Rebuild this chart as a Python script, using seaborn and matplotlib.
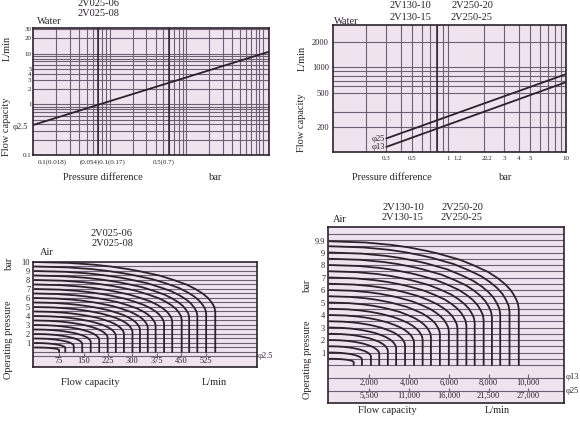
import numpy as np
import pandas as pd
import seaborn as sns
import matplotlib.pyplot as plt

# --- top left: water, 2V025 (log-log) ---
tl_dp = [0.01, 12]
tl_flow = [0.39, 10.9]
tl_xticks = [0.018, 0.08, 0.5]
tl_xlabels = ["0.1(0.018)", "(0.054)0.1(0.17)", "0.5(0.7)"]
tl_yticks = [0.1, 1, 2, 3, 4, 5, 10, 20, 30]
tl_dark = [0.07, 0.6]

# --- top right: water, 2V130 / 2V250 (log-log) ---
tr_dp = [0.3, 10]
tr_phi25 = [147, 834]
tr_phi13 = [117, 671]
tr_xticks = [0.3, 0.5, 1, 1.2, 2, 2.2, 3, 4, 5, 10]
tr_yticks = [200, 500, 1000, 2000]
tr_ygrid = [200, 300, 500, 600, 700, 800, 900, 1000, 2000]
tr_dark = [0.8]

# --- bottom left: air, 2V025 ---
bl_press = [0.5, 1, 1.5, 2, 2.5, 3, 3.5, 4, 4.5, 5, 5.5, 6, 6.5, 7, 7.5, 8, 8.5, 9, 9.5, 10]
bl_qmax = [75, 94, 120, 146, 172, 198, 224, 249, 274, 300, 323, 347, 371, 397, 422, 451, 474, 499, 526, 554]
bl_xticks = [75, 150, 225, 300, 375, 450, 525]
bl_yticks = [1, 2, 3, 4, 5, 6, 7, 8, 9, 10]

# --- bottom right: air, 2V130 / 2V250 ---
br_press = [0.5, 1, 1.5, 2, 2.5, 3, 3.5, 4, 4.5, 5, 5.5, 6, 6.5, 7, 7.5, 8, 8.5, 9, 9.5, 9.9]
br_qmax = [1217, 1633, 2083, 2500, 2933, 3350, 3800, 4250, 4683, 5100, 5550, 6000, 6433, 6883,
           7300, 7750, 8167, 8583, 9050, 9517]
br_xticks = [2000, 4000, 6000, 8000, 10000]
br_phi13_labels = ["2,000", "4,000", "6,000", "8,000", "10,000"]
br_phi25_labels = ["5,500", "11,000", "16,000", "21,500", "27,000"]
br_yticks = [1, 2, 3, 4, 5, 6, 7, 8, 9, 9.9]

# normalised curve shape (flow / max flow vs pressure / supply)
shape_q = [0, 0.19, 0.33, 0.42, 0.52, 0.575, 0.69, 0.77, 0.84, 0.89, 0.93, 0.96, 0.98, 0.995, 1, 1]
shape_p = [1, 0.99, 0.97, 0.95, 0.92, 0.9, 0.85, 0.8, 0.75, 0.7, 0.65, 0.6, 0.55, 0.5, 0.45, 0]

sns.set_theme(style="white")
plt.rcParams["font.family"] = ["Liberation Serif", "DejaVu Serif"]

BG = "#efe3ef"
GRID = "#6e5f72"
INK = "#2b222c"
W, H = 580, 423

fig = plt.figure(figsize=(5.8, 4.23), dpi=100)


def box(l, t, r, b):
    ax = fig.add_axes([l / W, 1 - b / H, (r - l) / W, (b - t) / H])
    ax.set_facecolor(BG)
    for s in ax.spines.values():
        s.set_color(INK)
        s.set_linewidth(1.2)
    ax.tick_params(length=0, labelsize=6, colors=INK)
    ax.minorticks_off()
    return ax


def txt(x, y, s, size=7.5, rot=0, ha="center"):
    fig.text(x / W, 1 - y / H, s, fontsize=size, rotation=rot, ha=ha, va="center", color=INK)


def log_lines(lo, hi):
    # 1..9 of every decade between lo and hi (grid positions of log paper)
    vals = []
    for d in range(int(np.floor(np.log10(lo))), int(np.ceil(np.log10(hi))) + 1):
        for k in range(1, 10):
            v = k * 10.0 ** d
            if lo * 1.001 < v < hi * 0.999:
                vals.append(v)
    return vals


def curves_df(press, qmax):
    rows = []
    for i, (p, q) in enumerate(zip(press, qmax)):
        for sq, sp in zip(shape_q, shape_p):
            rows.append({"q": sq * q, "p": sp * p, "curve": i})
    return pd.DataFrame(rows)


# ---------- top left ----------
ax = box(33, 28, 269, 155)
ax.set_xscale("log")
ax.set_yscale("log")
for v in log_lines(0.01, 12):
    ax.axvline(v, color=GRID, lw=0.8)
for v in log_lines(0.1, 32):
    ax.axhline(v, color=GRID, lw=0.8)
for v in tl_dark:
    ax.axvline(v, color=INK, lw=1.1)
sns.lineplot(x=tl_dp, y=tl_flow, ax=ax, color=INK, lw=1.3)
ax.set_xticks(tl_xticks, tl_xlabels)
ax.set_yticks(tl_yticks, [str(v) for v in tl_yticks])
ax.minorticks_off()
ax.tick_params(axis="x", labelsize=5, pad=3)
ax.tick_params(axis="y", labelsize=5, pad=1)
ax.set_xlim(0.01, 12)
ax.set_ylim(0.1, 32)
txt(28, 127, "\u03c62.5", size=6, ha="right")
txt(99, 4, "2V025-06")
txt(99, 14, "2V025-08")
txt(49, 21, "Water")
txt(7, 48, "L/min", rot=90)
txt(7, 127, "Flow capacity", rot=90)
txt(103, 177, "Pressure difference")
txt(216, 177, "bar")

# ---------- top right ----------
ax = box(333, 25, 566, 152)
ax.set_xscale("log")
ax.set_yscale("log")
for v in log_lines(0.106, 10):
    ax.axvline(v, color=GRID, lw=0.8)
for v in tr_ygrid:
    ax.axhline(v, color=GRID, lw=0.8)
for v in tr_dark:
    ax.axvline(v, color=INK, lw=1.1)
sns.lineplot(x=tr_dp, y=tr_phi25, ax=ax, color=INK, lw=1.3)
sns.lineplot(x=tr_dp, y=tr_phi13, ax=ax, color=INK, lw=1.3)
ax.set_xticks(tr_xticks, [f"{v:g}" for v in tr_xticks])
ax.set_yticks(tr_yticks, [str(v) for v in tr_yticks])
ax.minorticks_off()
ax.tick_params(axis="x", labelsize=5, pad=3)
ax.tick_params(axis="y", labelsize=6, pad=3)
ax.set_xlim(0.106, 10)
ax.set_ylim(102, 3140)
txt(385, 139, "\u03c625", size=6, ha="right")
txt(385, 147, "\u03c613", size=6, ha="right")
txt(410, 6, "2V130-10")
txt(410, 17, "2V130-15")
txt(472, 6, "2V250-20")
txt(472, 17, "2V250-25")
txt(346, 21, "Water")
txt(302, 58, "L/min", rot=90)
txt(302, 123, "Flow capacity", rot=90)
txt(392, 177, "Pressure difference")
txt(506, 177, "bar")

# ---------- bottom left ----------
ax = box(33, 262, 257, 367)
for v in np.arange(-0.5, 10, 0.5):
    ax.axhline(v, color=GRID, lw=0.8)
sns.lineplot(data=curves_df(bl_press, bl_qmax), x="q", y="p", units="curve",
             estimator=None, sort=False, ax=ax, color=INK, lw=1.3)
ax.vlines(bl_xticks, -0.5, -0.1, color=GRID, lw=0.8)
for v in bl_xticks:
    ax.text(v, -1.0, str(v), fontsize=6, ha="center", va="center", color=INK)
ax.set_xticks([])
ax.set_yticks(bl_yticks, [str(v) for v in bl_yticks])
ax.tick_params(axis="y", labelsize=6, pad=2)
ax.set_xlim(-5, 682)
ax.set_ylim(-1.67, 10)
ax.set_xlabel("")
ax.set_ylabel("")
txt(258, 356, "\u03c62.5", size=6, ha="left")
txt(112, 233, "2V025-06")
txt(112, 243, "2V025-08")
txt(47, 252, "Air")
txt(9, 263, "bar", rot=90)
txt(9, 340, "Operating pressure", rot=90)
txt(90, 382, "Flow capacity")
txt(214, 382, "L/min")

# ---------- bottom right ----------
ax = box(328, 227, 564, 403)
for v in np.arange(0, 11, 0.5):
    ax.axhline(v, color=GRID, lw=0.8)
ax.axhline(-1.0, color=GRID, lw=0.8)
ax.axhline(-2.1, color=GRID, lw=0.8)
sns.lineplot(data=curves_df(br_press, br_qmax), x="q", y="p", units="curve",
             estimator=None, sort=False, ax=ax, color=INK, lw=1.3)
ax.vlines(br_xticks, -1.0, -0.7, color=GRID, lw=0.8)
ax.vlines(br_xticks, -2.1, -1.8, color=GRID, lw=0.8)
for v, a, b in zip(br_xticks, br_phi13_labels, br_phi25_labels):
    ax.text(v, -1.4, a, fontsize=6, ha="center", va="center", color=INK)
    ax.text(v, -2.45, b, fontsize=6, ha="center", va="center", color=INK)
ax.set_xticks([])
ax.set_yticks(br_yticks, [f"{v:g}" for v in br_yticks])
ax.tick_params(axis="y", labelsize=6, pad=2)
ax.set_xlim(-75, 11790)
ax.set_ylim(-3.04, 11.04)
ax.set_xlabel("")
ax.set_ylabel("")
txt(566, 377, "\u03c613", size=6, ha="left")
txt(566, 391, "\u03c625", size=6, ha="left")
txt(403, 207, "2V130-10")
txt(403, 217, "2V130-15")
txt(462, 207, "2V250-20")
txt(462, 217, "2V250-25")
txt(340, 219, "Air")
txt(307, 285, "bar", rot=90)
txt(307, 360, "Operating pressure", rot=90)
txt(387, 410, "Flow capacity")
txt(497, 410, "L/min")

fig.savefig("out.png", dpi=100, facecolor="white")
